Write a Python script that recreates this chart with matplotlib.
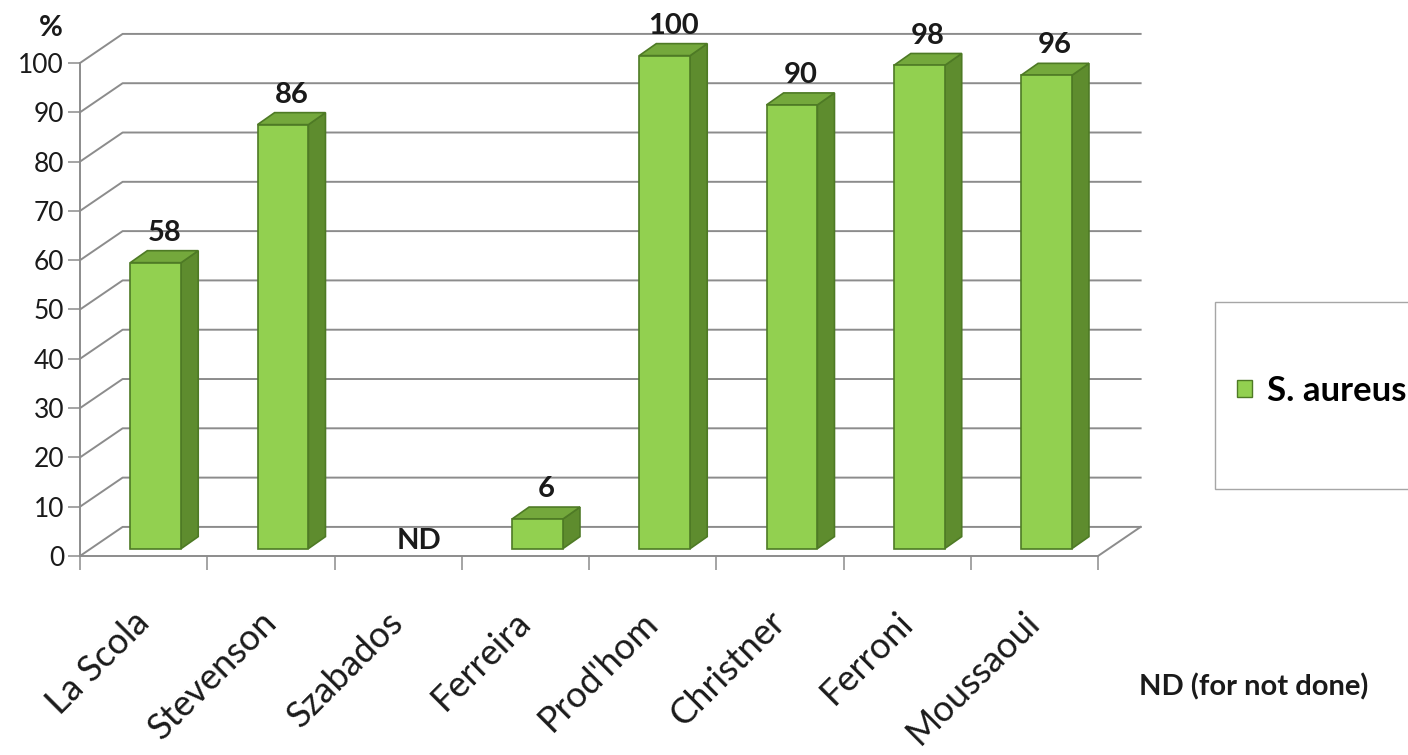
import matplotlib.pyplot as plt
from matplotlib.patches import Polygon, Rectangle, Patch

# data
studies = ['La Scola', 'Stevenson', 'Szabados', 'Ferreira', "Prod'hom",
           'Christner', 'Ferroni', 'Moussaoui']
values = [58, 86, None, 6, 100, 90, 98, 96]   # None = not done
series_name = 'S. aureus'
yticks = [0, 10, 20, 30, 40, 50, 60, 70, 80, 90, 100]

plt.rcParams['font.family'] = ['Lato', 'DejaVu Sans']

front_c = '#92D050'
side_c = '#5E8C2E'
top_c = '#74A83C'
edge_c = '#4E7A25'
grid_c = '#8C8C8C'
text_c = '#1A1A1A'

# oblique projection offsets (data units)
wall_dx, wall_dy = 0.335, 5.9     # back wall
shift_dx, shift_dy = 0.095, 1.5   # bar front face inside the floor
depth_dx, depth_dy = 0.134, 2.43  # bar depth
bar_w = 0.40

fig = plt.figure(figsize=(14.08, 7.55), dpi=100)
ax = fig.add_axes([80 / 1408, 199 / 755, 1018 / 1408, 493 / 755])
ax.set_xlim(0, 8)
ax.set_ylim(0, 100)
ax.patch.set_visible(False)

n = len(studies)

# back wall gridlines + left wall diagonals
for v in yticks:
    ax.plot([0, wall_dx, n + wall_dx], [v, v + wall_dy, v + wall_dy],
            color=grid_c, lw=1.4, clip_on=False, zorder=1)
# floor right edge
ax.plot([n, n + wall_dx], [0, wall_dy], color=grid_c, lw=1.4,
        clip_on=False, zorder=1)

# bars
for i, v in enumerate(values):
    x0 = i + 0.5 - bar_w / 2 + shift_dx
    x1 = x0 + bar_w
    y0 = shift_dy
    if v is None:
        ax.text(i + 0.5 + shift_dx + depth_dx / 2, 3.0, 'ND', ha='center',
                va='center', fontsize=21, fontweight='bold', color=text_c)
        continue
    y1 = v + shift_dy
    side = Polygon([(x1, y0), (x1 + depth_dx, y0 + depth_dy),
                    (x1 + depth_dx, y1 + depth_dy), (x1, y1)],
                   closed=True, fc=side_c, ec=edge_c, lw=1.2, zorder=3,
                   clip_on=False)
    top = Polygon([(x0, y1), (x0 + depth_dx, y1 + depth_dy),
                   (x1 + depth_dx, y1 + depth_dy), (x1, y1)],
                  closed=True, fc=top_c, ec=edge_c, lw=1.2, zorder=3,
                  clip_on=False)
    front = Rectangle((x0, y0), bar_w, v, fc=front_c, ec=edge_c, lw=1.2,
                      zorder=4, clip_on=False)
    ax.add_patch(side)
    ax.add_patch(top)
    ax.add_patch(front)
    ax.text(x0 + bar_w / 2 + depth_dx / 2, y1 + depth_dy + 2.0, str(v),
            ha='center', va='baseline', fontsize=21, fontweight='bold',
            color=text_c)

# axes
for s in ['top', 'right']:
    ax.spines[s].set_visible(False)
for s in ['left', 'bottom']:
    ax.spines[s].set_color(grid_c)
    ax.spines[s].set_linewidth(1.4)

ax.set_yticks(yticks)
ax.tick_params(axis='y', direction='out', length=8.5, width=1.1,
               color=grid_c, labelsize=19, labelcolor=text_c, pad=3)

ax.set_xticks(range(n + 1))
ax.set_xticklabels([])
ax.set_xticks([i + 0.5 for i in range(n)], minor=True)
ax.set_xticklabels(studies, minor=True, rotation=45, ha='right',
                   va='center', rotation_mode='anchor', fontsize=26,
                   color=text_c)
ax.tick_params(axis='x', which='major', direction='out', length=10,
               width=1.1, color=grid_c)
ax.tick_params(axis='x', which='minor', length=0, pad=44)

ax.text(-0.23, 107, '%', ha='center', va='center', fontsize=21,
        fontweight='bold', color=text_c, transform=ax.transData)

# legend box
fig.patches.append(Rectangle((1215 / 1408, (755 - 489) / 755), 0.2,
                             187 / 755, transform=fig.transFigure,
                             fc='white', ec='#A6A6A6', lw=1.0))
handle = Patch(fc=front_c, ec=edge_c, lw=1.0)
fig.legend([handle], [series_name], loc='center left',
           bbox_to_anchor=(1237 / 1408, (755 - 391) / 755), frameon=False,
           borderaxespad=0, borderpad=0, handlelength=0.42,
           handleheight=0.38, handletextpad=0.45,
           prop={'size': 25, 'weight': 'bold'})

fig.text(1139 / 1408, (755 - 687) / 755, 'ND (for not done)', ha='left',
         va='center', fontsize=21, fontweight='bold', color=text_c)

fig.savefig('out.png', dpi=100)
